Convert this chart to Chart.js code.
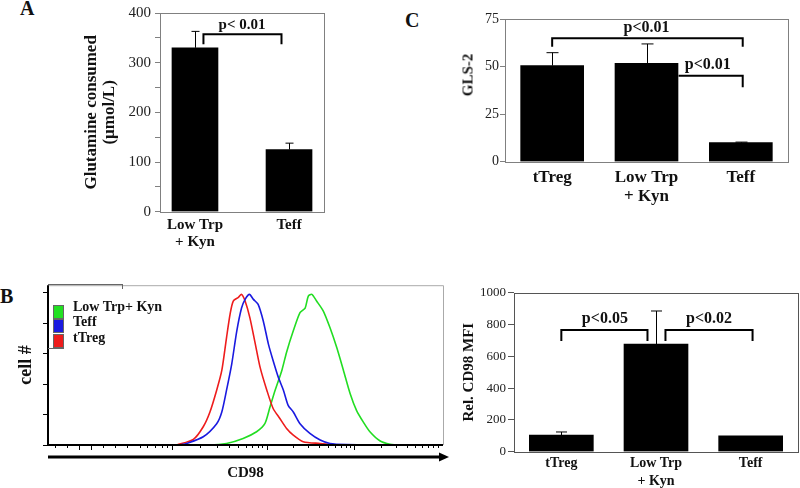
<!DOCTYPE html>
<html lang="en">
<head>
<meta charset="UTF-8">
<title>Glutamine, GLS-2 and CD98</title>
<style>
  body { margin: 0; background: #fff; }
  #wrap { position: relative; width: 800px; height: 488px; overflow: hidden; font-family: 'Liberation Serif', 'Times New Roman', serif; color: #111; }
  #wrap canvas { position: absolute; }
  .panel { position: absolute; font-weight: bold; font-size: 20px; line-height: 1; }
  .ytitle { position: absolute; font-weight: bold; font-size: 15px; white-space: nowrap; transform: translate(-50%, -50%) rotate(-90deg); }
  .sw { position: absolute; left: 53px; width: 9px; height: 12px; border: 1px solid #666; }
  .lg { position: absolute; left: 73px; font-weight: bold; font-size: 14px; line-height: 16px; white-space: nowrap; }
</style>
<script src="https://cdn.jsdelivr.net/npm/chart.js@4"></script>
</head>
<body>
<div id="wrap">
  <div class="panel" style="left:20px; top:-2px">A</div>
  <div class="panel" style="left:0px; top:286px">B</div>
  <div class="panel" style="left:405px; top:10px">C</div>

  <canvas id="chartA" width="260" height="255" style="left:80px; top:0px"></canvas>
  <canvas id="chartC" width="380" height="215" style="left:420px; top:0px"></canvas>
  <canvas id="chartHist" width="460" height="213" style="left:0px; top:275px"></canvas>
  <canvas id="chartMfi" width="360" height="213" style="left:440px; top:275px"></canvas>

  <div class="ytitle" style="left:468px; top:75px">GLS-2</div>

  <!-- legend of the histogram -->
  <div style="position:absolute; left:48px; top:284px; width:74px; height:4px; border-top:1px solid #666; border-right:1px solid #666"></div>
  <div class="sw" style="top:305px; background:#22e022"></div>
  <div class="sw" style="top:319px; background:#1a1ae0"></div>
  <div class="sw" style="top:334px; background:#ee1c1c"></div>
  <div style="position:absolute; left:48px; top:348px; width:16px; border-top:1px solid #666"></div>
  <div class="lg" id="lg0" style="top:299px"></div>
  <div class="lg" id="lg1" style="top:314px"></div>
  <div class="lg" id="lg2" style="top:330px"></div>
</div>

<script>
  const FONT = "'Liberation Serif', 'Times New Roman', serif";

  // A - glutamine consumed
  const catsA = [['Low Trp', '+ Kyn'], 'Teff'];
  const glutamine = [330, 125];
  const glutamineErr = [33, 13];
  const yTicksA = [0, 50, 100, 150, 200, 250, 300, 350, 400];

  // C - GLS-2
  const catsC = ['tTreg', ['Low Trp', '+ Kyn'], 'Teff'];
  const gls2 = [50.5, 51.7, 10.0];
  const gls2Err = [6.8, 10.2, 0.3];

  // B right - relative CD98 MFI
  const catsMfi = ['tTreg', ['Low Trp', '+ Kyn'], 'Teff'];
  const cd98Mfi = [105, 677, 100];
  const cd98MfiErr = [19, 208, 0];

  // B left - CD98 histograms (channel, % of max)
  const histNames = ['Low Trp+ Kyn', 'Teff', 'tTreg'];
  const lowTrpHist = [
    [0, 0], [410, 0], [452, 1], [494, 4.3], [528, 8.7], [549, 14], [562, 25], [575, 36],
    [592, 49], [604, 61], [621, 75], [638, 87], [651, 90], [659, 97.8], [668, 99],
    [680, 94.6], [697, 88], [714, 77], [731, 64], [748, 49], [765, 33.7], [781, 22.8],
    [798, 15.2], [815, 8.7], [840, 2.8], [866, 0.5], [891, 0], [1000, 0]
  ];
  const teffHist = [
    [334, 0], [351, 1], [393, 5.4], [427, 14], [440, 21.7], [452, 36], [465, 53], [478, 75],
    [490, 90], [499, 95.7], [510, 99], [520, 95.7], [532, 92.4], [545, 81.5], [558, 66.3],
    [570, 55.4], [583, 44.6], [596, 36], [608, 26], [621, 21.7], [638, 14], [663, 7.6],
    [689, 3.3], [714, 1], [756, 0.3], [858, 0]
  ];
  const tTregHist = [
    [326, 0], [368, 3.7], [393, 12], [410, 21.7], [427, 36], [440, 49], [452, 70.6], [461, 86],
    [469, 94.6], [482, 97], [490, 99], [499, 94.6], [511, 83.7], [524, 67.4], [537, 51],
    [554, 36], [570, 24], [587, 17.4], [604, 10.9], [621, 6.5], [646, 2.2], [689, 1], [731, 0]
  ];
  const histYTicks = [0, 20, 40, 60, 80, 100];
  const histXMajor = [79, 108, 313, 554, 775];
  const histXMinor = [18, 47, 138, 170, 201, 233, 251, 271, 288, 300,
    386, 428, 458, 482, 501, 517, 531, 543,
    620, 659, 687, 708, 726, 741, 754, 765,
    842, 881, 909, 930, 948, 963, 975, 987];

  // significance brackets (x in category units, y in data units)
  const bracketsA = [{ x1: 0.09, x2: 0.92, y: 357, leg1: 337, leg2: 337, text: 'p< 0.01', tx: 0.5, ty: 376 }];
  const bracketsC = [
    { x1: 0, x2: 2.02, y: 64.9, leg1: 60.4, leg2: 60.4, text: 'p<0.01', tx: 1, ty: 70.5 },
    { x1: 1.34, x2: 2.02, y: 45.2, leg1: null, leg2: 39.1, text: 'p<0.01', tx: 1.65, ty: 50.7 }
  ];
  const bracketsMfi = [
    { x1: 0, x2: 0.91, y: 765, leg1: 696, leg2: 696, text: 'p<0.05', tx: 0.46, ty: 836 },
    { x1: 1.1, x2: 2.02, y: 765, leg1: 696, leg2: 696, text: 'p<0.02', tx: 1.56, ty: 836 }
  ];

  histNames.forEach((n, i) => { document.getElementById('lg' + i).textContent = n; });

  // frame, error bars and brackets
  const annot = {
    id: 'annot',
    afterDatasetsDraw(chart, args, opts) {
      const { ctx, chartArea: a } = chart;
      const xs = chart.scales.x, ys = chart.scales.y;
      ctx.save();
      if (opts.frame) {
        ctx.strokeStyle = opts.frame;
        ctx.lineWidth = 1;
        ctx.strokeRect(Math.round(a.left) + 0.5, Math.round(a.top) + 0.5, Math.round(a.right - a.left), Math.round(a.bottom - a.top));
      }
      // error bars (upper half only)
      const meta = chart.getDatasetMeta(0);
      (opts.values || []).forEach((v, i) => {
        const e = opts.errs[i];
        if (!e) return;
        const x = Math.round(meta.data[i].x) + 0.5;
        const y0 = meta.data[i].y;
        const y1 = ys.getPixelForValue(v + e);
        ctx.strokeStyle = '#000';
        ctx.lineWidth = 1;
        ctx.beginPath();
        ctx.moveTo(x, y0);
        ctx.lineTo(x, y1);
        ctx.moveTo(x - opts.cap / 2, y1);
        ctx.lineTo(x + opts.cap / 2, y1);
        ctx.stroke();
      });
      // brackets
      (opts.brackets || []).forEach(b => {
        const px1 = xs.getPixelForValue(b.x1), px2 = xs.getPixelForValue(b.x2);
        const py = ys.getPixelForValue(b.y);
        ctx.strokeStyle = '#000';
        ctx.lineWidth = 2;
        ctx.beginPath();
        if (b.leg1 !== null) { ctx.moveTo(px1, ys.getPixelForValue(b.leg1)); ctx.lineTo(px1, py); }
        else ctx.moveTo(px1, py);
        ctx.lineTo(px2, py);
        ctx.lineTo(px2, ys.getPixelForValue(b.leg2));
        ctx.stroke();
        ctx.fillStyle = '#111';
        ctx.font = 'bold ' + opts.textSize + 'px ' + FONT;
        ctx.textAlign = 'center';
        ctx.textBaseline = 'middle';
        ctx.fillText(b.text, xs.getPixelForValue(b.tx), ys.getPixelForValue(b.ty));
      });
      ctx.restore();
    }
  };

  // histogram axes, log-like tick marks and arrow
  const histAxes = {
    id: 'histAxes',
    afterDatasetsDraw(chart) {
      const { ctx, chartArea: a } = chart;
      const xs = chart.scales.x;
      ctx.save();
      ctx.lineWidth = 1;
      ctx.strokeStyle = '#aaa';
      ctx.beginPath();
      ctx.moveTo(a.left, a.top + 0.5);
      ctx.lineTo(a.right + 0.5, a.top + 0.5);
      ctx.lineTo(a.right + 0.5, a.bottom);
      ctx.stroke();
      ctx.strokeStyle = '#000';
      ctx.lineWidth = 2;
      ctx.beginPath();
      ctx.moveTo(a.left, a.top);
      ctx.lineTo(a.left, a.bottom);
      ctx.lineTo(a.right, a.bottom);
      ctx.stroke();
      ctx.lineWidth = 1;
      ctx.beginPath();
      histXMajor.forEach(v => {
        const x = Math.round(xs.getPixelForValue(v)) + 0.5;
        ctx.moveTo(x, a.bottom); ctx.lineTo(x, a.bottom + 5);
      });
      histXMinor.forEach(v => {
        const x = Math.round(xs.getPixelForValue(v)) + 0.5;
        ctx.moveTo(x, a.bottom); ctx.lineTo(x, a.bottom + 3);
      });
      ctx.stroke();
      // CD98 arrow
      const ay = a.bottom + 12;
      ctx.lineWidth = 3;
      ctx.beginPath();
      ctx.moveTo(a.left, ay);
      ctx.lineTo(a.right, ay);
      ctx.stroke();
      ctx.fillStyle = '#000';
      ctx.beginPath();
      ctx.moveTo(a.right + 6, ay);
      ctx.lineTo(a.right - 4, ay - 4.5);
      ctx.lineTo(a.right - 4, ay + 4.5);
      ctx.closePath();
      ctx.fill();
      ctx.restore();
    }
  };

  const common = { responsive: false, animation: false, devicePixelRatio: 1 };

  // Panel A
  new Chart(document.getElementById('chartA'), {
    type: 'bar',
    data: { datasets: [{ data: glutamine.map((v, i) => ({ x: i, y: v })), backgroundColor: '#000', barThickness: 46 }] },
    options: {
      ...common,
      layout: { padding: { top: 11.7, right: 16, left: 0, bottom: 0 } },
      plugins: {
        legend: { display: false }, tooltip: { enabled: false },
        annot: { frame: '#808080', values: glutamine, errs: glutamineErr, cap: 8, brackets: bracketsA, textSize: 15 }
      },
      scales: {
        x: {
          type: 'linear', min: -0.372, max: 1.372, offset: false, bounds: 'data',
          grid: { display: false, drawTicks: false }, border: { display: false },
          afterBuildTicks: s => { s.ticks = catsA.map((c, i) => ({ value: i })); },
          ticks: { callback: (v, i) => catsA[i], padding: 5, color: '#111', autoSkip: false, maxRotation: 0,
            font: { family: FONT, size: 15, weight: 'bold', lineHeight: 1.15 } },
          afterFit: s => { s.height = 43.3; }
        },
        y: {
          min: 0, max: 400,
          afterBuildTicks: s => { s.ticks = yTicksA.map(v => ({ value: v })); },
          ticks: { callback: v => (v % 100 === 0 ? v : ''), padding: 4, color: '#222', font: { family: FONT, size: 15 } },
          grid: { drawOnChartArea: false, tickLength: 5, color: '#808080' }, border: { display: false },
          title: { display: true, text: ['Glutamine consumed', '(\u03bcmol/L)'], color: '#111', padding: { top: 2 },
            font: { family: FONT, size: 17, weight: 'bold', lineHeight: 1.1 } },
          afterFit: s => { s.width = 80; }
        }
      }
    },
    plugins: [annot]
  });

  // Panel C
  new Chart(document.getElementById('chartC'), {
    type: 'bar',
    data: { labels: catsC, datasets: [{ data: gls2, backgroundColor: '#000', barThickness: 63 }] },
    options: {
      ...common,
      layout: { padding: { top: 19, right: 12, left: 0, bottom: 0 } },
      plugins: {
        legend: { display: false }, tooltip: { enabled: false },
        annot: { frame: '#808080', values: gls2, errs: gls2Err, cap: 12, brackets: bracketsC, textSize: 16 }
      },
      scales: {
        x: {
          grid: { display: false, drawTicks: false }, border: { display: false },
          ticks: { padding: 7, color: '#111', autoSkip: false, maxRotation: 0,
            font: { family: FONT, size: 17, weight: 'bold', lineHeight: 1.1 } },
          afterFit: s => { s.height = 53.3; }
        },
        y: {
          min: 0, max: 75,
          ticks: { stepSize: 25, padding: 1, color: '#222', font: { family: FONT, size: 14 } },
          grid: { drawOnChartArea: false, tickLength: 5, color: '#808080' }, border: { display: false },
          afterFit: s => { s.width = 85; }
        }
      }
    },
    plugins: [annot]
  });

  // Panel B right
  new Chart(document.getElementById('chartMfi'), {
    type: 'bar',
    data: { labels: catsMfi, datasets: [{ data: cd98Mfi, backgroundColor: '#000', barThickness: 64 }] },
    options: {
      ...common,
      layout: { padding: { top: 17.7, right: 2, left: 0, bottom: 0 } },
      plugins: {
        legend: { display: false }, tooltip: { enabled: false },
        annot: { frame: '#555', values: cd98Mfi, errs: cd98MfiErr, cap: 11, brackets: bracketsMfi, textSize: 16 }
      },
      scales: {
        x: {
          grid: { display: false, drawTicks: false }, border: { display: false },
          ticks: { padding: 3, color: '#111', autoSkip: false, maxRotation: 0,
            font: { family: FONT, size: 14, weight: 'bold', lineHeight: 1.25 } },
          afterFit: s => { s.height = 36.3; }
        },
        y: {
          min: 0, max: 1000,
          ticks: { stepSize: 200, padding: 2, color: '#222', callback: v => String(v), font: { family: FONT, size: 13 } },
          grid: { drawOnChartArea: false, tickLength: 6, color: '#555' }, border: { display: false },
          title: { display: true, text: 'Rel. CD98 MFI', color: '#111', padding: { top: 20.3 },
            font: { family: FONT, size: 15, weight: 'bold', lineHeight: 1.2 } },
          afterFit: s => { s.width = 74; }
        }
      }
    },
    plugins: [annot]
  });

  // Panel B left - histogram
  const toPts = arr => arr.map(p => ({ x: p[0], y: p[1] }));
  new Chart(document.getElementById('chartHist'), {
    type: 'line',
    data: {
      datasets: [
        { label: histNames[1], data: toPts(teffHist), borderColor: '#1a1ae0' },
        { label: histNames[2], data: toPts(tTregHist), borderColor: '#ee1c1c' },
        { label: histNames[0], data: toPts(lowTrpHist), borderColor: '#22dd22' }
      ].map(d => ({ ...d, borderWidth: 1.6, pointRadius: 0, tension: 0.25, fill: false }))
    },
    options: {
      ...common,
      layout: { padding: { top: 9, right: 17, left: 0, bottom: 0 } },
      plugins: { legend: { display: false }, tooltip: { enabled: false } },
      scales: {
        x: {
          type: 'linear', min: 0, max: 1000,
          grid: { display: false }, border: { display: false },
          ticks: { display: false },
          title: { display: true, text: 'CD98', color: '#111', padding: { bottom: 6 },
            font: { family: FONT, size: 15, weight: 'bold', lineHeight: 1.2 } },
          afterFit: s => { s.height = 43; }
        },
        y: {
          min: 0, max: 105,
          afterBuildTicks: s => { s.ticks = histYTicks.map(v => ({ value: v })); },
          ticks: { callback: () => '' },
          grid: { drawOnChartArea: false, tickLength: 5, color: '#000' }, border: { display: false },
          title: { display: true, text: 'cell #', color: '#111', padding: { top: 16.8 },
            font: { family: FONT, size: 18, weight: 'bold', lineHeight: 1.1 } },
          afterFit: s => { s.width = 48; }
        }
      }
    },
    plugins: [histAxes]
  });
</script>
</body>
</html>
